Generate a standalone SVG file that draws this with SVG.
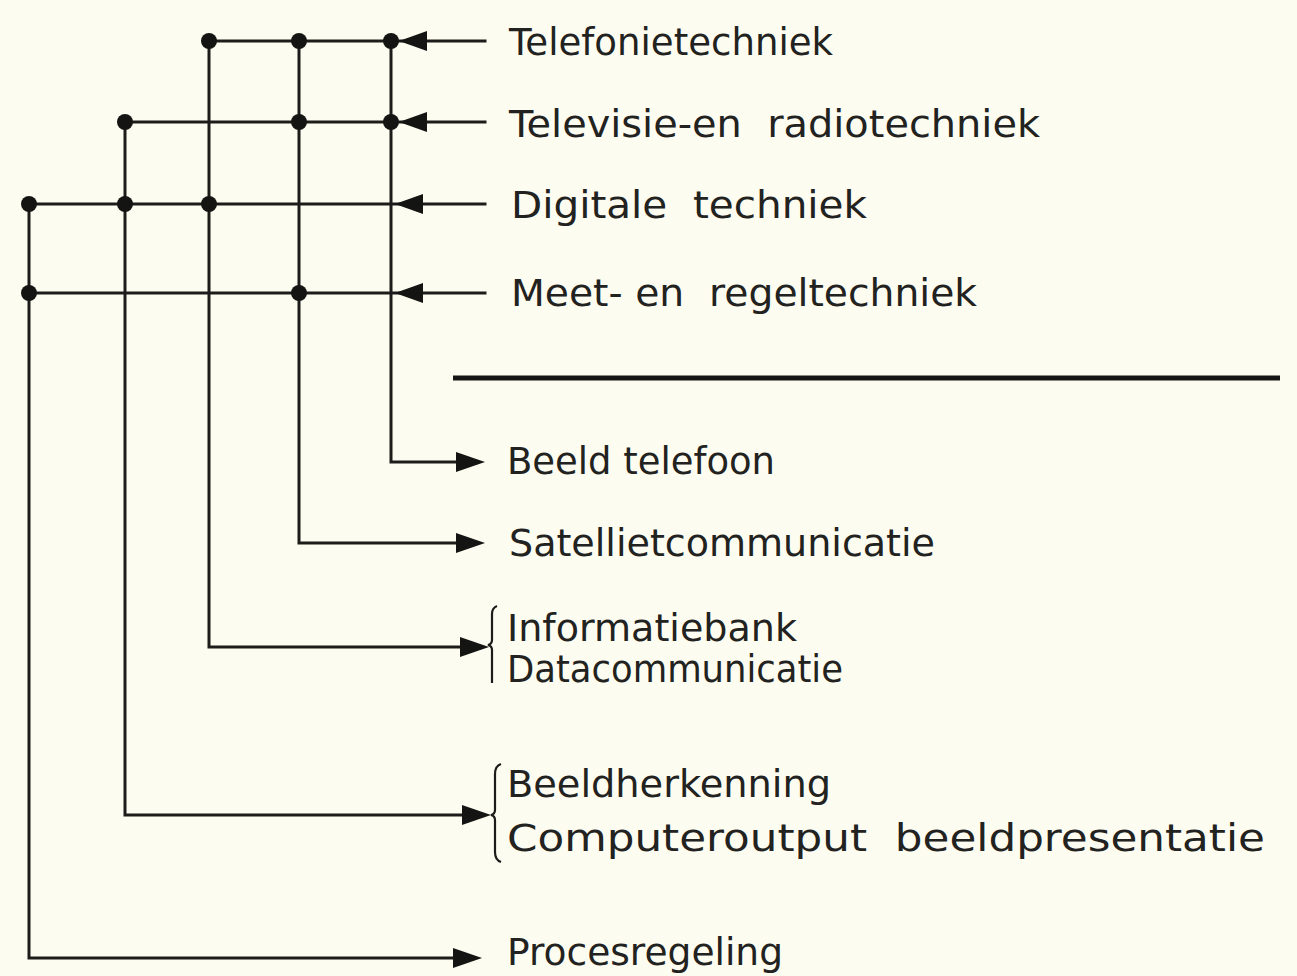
<svg xmlns="http://www.w3.org/2000/svg" xmlns:xlink="http://www.w3.org/1999/xlink" width="1297" height="976" viewBox="0 0 1297 976">
  <style>
    .ln { stroke: #1c1c1a; stroke-width: 3; fill: none; stroke-linecap: square; }
    .dot { fill: #141412; }
    .ah { fill: #141412; }
    .br { stroke: #1c1c1a; stroke-width: 2.2; fill: none; }
    .tx { font-family: "DejaVu Sans", "Liberation Sans", sans-serif; font-size: 37px; fill: #222220; }
  </style>
  <defs>
    <path id="arrL" d="M0,0 L28,-10 L28,10 Z"/>
    <path id="arrR" d="M0,0 L-29,-10 L-29,10 Z"/>
  </defs>
  <rect x="0" y="0" width="1297" height="976" fill="#fdfcf0"/>

  <g id="connectors">
    <!-- input lines -->
    <polyline class="ln" points="485,41 209,41"/>
    <polyline class="ln" points="485,122 125,122"/>
    <polyline class="ln" points="485,204 29,204"/>
    <polyline class="ln" points="485,293 29,293"/>
    <!-- verticals to outputs -->
    <polyline class="ln" points="391,41 391,462 460,462"/>
    <polyline class="ln" points="299,41 299,543 460,543"/>
    <polyline class="ln" points="209,41 209,647 462,647"/>
    <polyline class="ln" points="125,122 125,815 464,815"/>
    <polyline class="ln" points="29,204 29,958 455,958"/>
    <!-- input arrowheads -->
    <use xlink:href="#arrL" class="ah" x="399" y="41"/>
    <use xlink:href="#arrL" class="ah" x="399" y="122"/>
    <use xlink:href="#arrL" class="ah" x="395" y="204"/>
    <use xlink:href="#arrL" class="ah" x="395" y="293"/>
    <!-- output arrowheads -->
    <use xlink:href="#arrR" class="ah" x="485" y="462"/>
    <use xlink:href="#arrR" class="ah" x="485" y="543"/>
    <use xlink:href="#arrR" class="ah" x="489" y="647"/>
    <use xlink:href="#arrR" class="ah" x="491" y="815"/>
    <use xlink:href="#arrR" class="ah" x="482" y="958"/>
    <!-- junction dots -->
    <circle class="dot" cx="209" cy="41" r="8"/>
    <circle class="dot" cx="299" cy="41" r="8"/>
    <circle class="dot" cx="391" cy="41" r="8"/>
    <circle class="dot" cx="125" cy="122" r="8"/>
    <circle class="dot" cx="299" cy="122" r="8"/>
    <circle class="dot" cx="391" cy="122" r="8"/>
    <circle class="dot" cx="29" cy="204" r="8"/>
    <circle class="dot" cx="125" cy="204" r="8"/>
    <circle class="dot" cx="209" cy="204" r="8"/>
    <circle class="dot" cx="29" cy="293" r="8"/>
    <circle class="dot" cx="299" cy="293" r="8"/>
  </g>

  <line id="separator" x1="453" y1="378" x2="1280" y2="378" stroke="#151513" stroke-width="5"/>

  <g id="in-telefonie"><text class="tx" x="509" y="55" textLength="324" lengthAdjust="spacingAndGlyphs">Telefonietechniek</text></g>
  <g id="in-televisie"><text class="tx" x="509" y="137" textLength="531" lengthAdjust="spacingAndGlyphs" xml:space="preserve">Televisie-en  radiotechniek</text></g>
  <g id="in-digitale"><text class="tx" x="511" y="218" textLength="356" lengthAdjust="spacingAndGlyphs" xml:space="preserve">Digitale  techniek</text></g>
  <g id="in-meet"><text class="tx" x="511" y="306" textLength="466" lengthAdjust="spacingAndGlyphs" xml:space="preserve">Meet- en  regeltechniek</text></g>

  <g id="out-beeldtelefoon"><text class="tx" x="507" y="474" textLength="268" lengthAdjust="spacingAndGlyphs">Beeld telefoon</text></g>
  <g id="out-satelliet"><text class="tx" x="509" y="556" textLength="426" lengthAdjust="spacingAndGlyphs">Satellietcommunicatie</text></g>
  <g id="out-informatie">
    <path class="br" d="M497,606 Q492,608 492,614 L492,640 Q492,644 488,645 Q492,646 492,650 L492,683"/>
    <text class="tx" x="507" y="641" textLength="290" lengthAdjust="spacingAndGlyphs">Informatiebank</text>
    <text class="tx" x="507" y="682" textLength="336" lengthAdjust="spacingAndGlyphs">Datacommunicatie</text>
  </g>
  <g id="out-beeldherkenning">
    <path class="br" d="M501,764 Q495,766 495,774 L495,810 Q495,814 491,815 Q495,816 495,820 L495,852 Q495,860 501,862"/>
    <text class="tx" x="507" y="797" textLength="324" lengthAdjust="spacingAndGlyphs">Beeldherkenning</text>
    <text class="tx" x="507" y="851" textLength="758" lengthAdjust="spacingAndGlyphs" xml:space="preserve">Computeroutput  beeldpresentatie</text>
  </g>
  <g id="out-proces"><text class="tx" x="507" y="965" textLength="276" lengthAdjust="spacingAndGlyphs">Procesregeling</text></g>
</svg>
